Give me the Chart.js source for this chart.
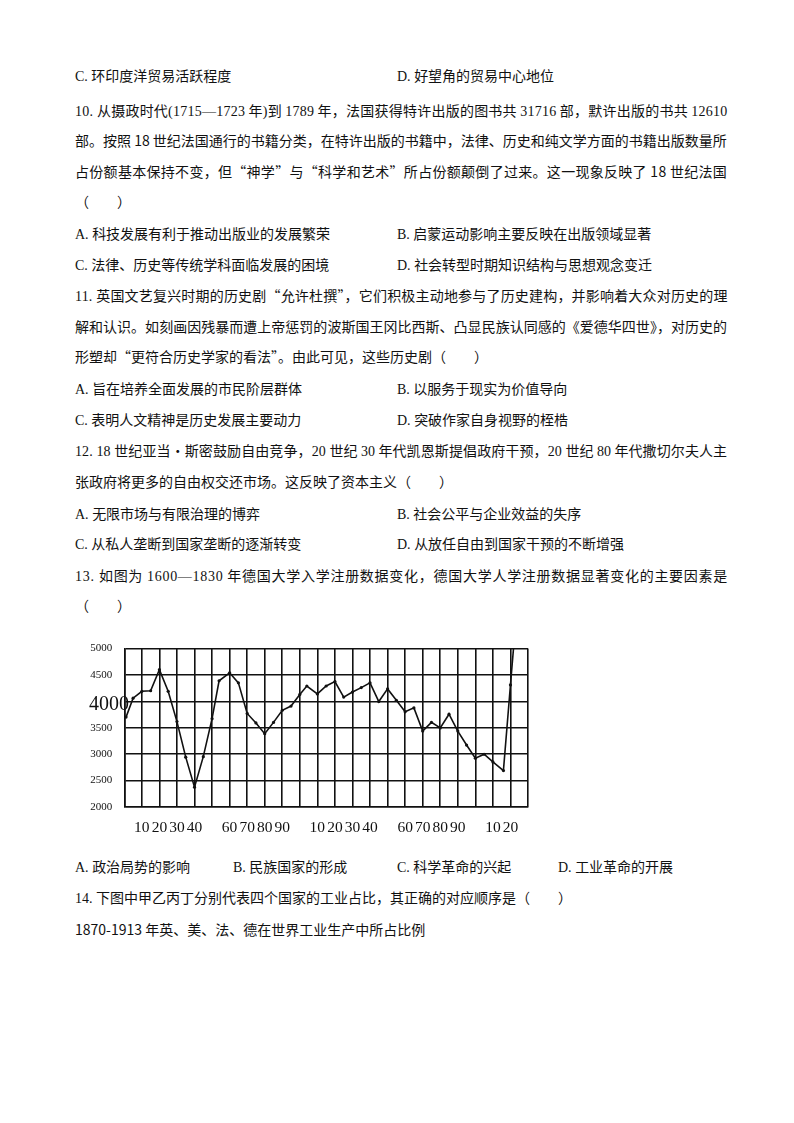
<!DOCTYPE html>
<html>
<head>
<meta charset="utf-8">
<script src="https://cdn.jsdelivr.net/npm/chart.js@4.4.1/dist/chart.umd.min.js"></script>
<style>
  html, body { margin: 0; padding: 0; background: #fff; }
  body { width: 794px; height: 1123px; position: relative; overflow: hidden;
         font-family: "Liberation Serif", "Noto Sans CJK SC", serif; font-size: 14px; color: #111; }
  .ln { position: absolute; left: 75px; height: 20px; line-height: 20px; white-space: nowrap; }
  .cjk { font-family: "Noto Sans CJK SC", sans-serif; }
  #chart-box { position: absolute; left: 70px; top: 630px; width: 470px; height: 212px; }
</style>
</head>
<body>
<div class="ln" style="top:65px">C. <span class="cjk">环印度洋贸易活跃程度</span></div>
<div class="ln" style="top:65px;left:397px">D. <span class="cjk">好望角的贸易中心地位</span></div>

<div class="ln full" style="top:100px">10. <span class="cjk">从摄政时代</span>(1715—1723<span class="cjk"> 年</span>)<span class="cjk">到 </span>1789<span class="cjk"> 年，法国获得特许出版的图书共 </span>31716<span class="cjk"> 部，默许出版的书共 </span>12610</div>
<div class="ln full cjk" style="top:130px">部。按照 18 世纪法国通行的书籍分类，在特许出版的书籍中，法律、历史和纯文学方面的书籍出版数量所</div>
<div class="ln full cjk" style="top:161px">占份额基本保持不变，但“神学”与“科学和艺术”所占份额颠倒了过来。这一现象反映了 18 世纪法国</div>
<div class="ln cjk" style="top:191px">（　　）</div>
<div class="ln" style="top:223px">A. <span class="cjk">科技发展有利于推动出版业的发展繁荣</span></div>
<div class="ln" style="top:223px;left:397px">B. <span class="cjk">启蒙运动影响主要反映在出版领域显著</span></div>
<div class="ln" style="top:254px">C. <span class="cjk">法律、历史等传统学科面临发展的困境</span></div>
<div class="ln" style="top:254px;left:397px">D. <span class="cjk">社会转型时期知识结构与思想观念变迁</span></div>

<div class="ln full" style="top:285px">11. <span class="cjk">英国文艺复兴时期的历史剧“允许杜撰”，它们积极主动地参与了历史建构，并影响着大众对历史的理</span></div>
<div class="ln full cjk" style="top:316px">解和认识。如刻画因残暴而遭上帝惩罚的波斯国王冈比西斯、凸显民族认同感的《爱德华四世》，对历史的</div>
<div class="ln cjk" style="top:346px">形塑却“更符合历史学家的看法”。由此可见，这些历史剧（　　）</div>
<div class="ln" style="top:378px">A. <span class="cjk">旨在培养全面发展的市民阶层群体</span></div>
<div class="ln" style="top:378px;left:397px">B. <span class="cjk">以服务于现实为价值导向</span></div>
<div class="ln" style="top:409px">C. <span class="cjk">表明人文精神是历史发展主要动力</span></div>
<div class="ln" style="top:409px;left:397px">D. <span class="cjk">突破作家自身视野的桎梏</span></div>

<div class="ln full" style="top:440px">12. 18 <span class="cjk">世纪亚当·斯密鼓励自由竞争，</span>20 <span class="cjk">世纪 </span>30<span class="cjk"> 年代凯恩斯提倡政府干预，</span>20 <span class="cjk">世纪 </span>80<span class="cjk"> 年代撒切尔夫人主</span></div>
<div class="ln cjk" style="top:471px">张政府将更多的自由权交还市场。这反映了资本主义（　　）</div>
<div class="ln" style="top:503px">A. <span class="cjk">无限市场与有限治理的博弈</span></div>
<div class="ln" style="top:503px;left:397px">B. <span class="cjk">社会公平与企业效益的失序</span></div>
<div class="ln" style="top:533px">C. <span class="cjk">从私人垄断到国家垄断的逐渐转变</span></div>
<div class="ln" style="top:533px;left:397px">D. <span class="cjk">从放任自由到国家干预的不断增强</span></div>

<div class="ln full" style="top:565px">13. <span class="cjk">如图为 </span>1600—1830<span class="cjk"> 年德国大学入学注册数据变化，德国大学人学注册数据显著变化的主要因素是</span></div>
<div class="ln cjk" style="top:595px">（　　）</div>

<div id="chart-box"><canvas id="enrol-chart"></canvas></div>

<div class="ln" style="top:856px">A. <span class="cjk">政治局势的影响</span></div>
<div class="ln" style="top:856px;left:233px">B. <span class="cjk">民族国家的形成</span></div>
<div class="ln" style="top:856px;left:397px">C. <span class="cjk">科学革命的兴起</span></div>
<div class="ln" style="top:856px;left:558px">D. <span class="cjk">工业革命的开展</span></div>
<div class="ln" style="top:887px">14. <span class="cjk">下图中甲乙丙丁分别代表四个国家的工业占比，其正确的对应顺序是（　　）</span></div>
<div class="ln cjk" style="top:919px">1870-1913 年英、美、法、德在世界工业生产中所占比例</div>

<script>
// 德国大学入学注册人数 1600—1830
const years = [1601, 1605, 1610, 1615, 1620, 1625, 1630, 1635, 1640, 1645,
               1650, 1654, 1660, 1665, 1670, 1675, 1680, 1685, 1690, 1695,
               1700, 1704, 1710, 1715, 1720, 1725, 1730, 1735, 1740, 1745,
               1750, 1755, 1760, 1765, 1770, 1775, 1780, 1785, 1790, 1795,
               1800, 1805, 1810, 1816, 1820, 1825];
const students = [3700, 4060, 4190, 4200, 4600, 4190, 3615, 2940, 2370, 2950,
                  3670, 4390, 4540, 4350, 3770, 3590, 3385, 3600, 3830, 3910,
                  4130, 4290, 4140, 4290, 4375, 4080, 4175, 4260, 4350, 3995,
                  4235, 4020, 3800, 3875, 3435, 3600, 3495, 3755, 3435, 3170,
                  2920, 2995, 2850, 2685, 4310, 6300];
// 横轴上印出的刻度（只印年份后两位）
const xLabelYears = [1610, 1620, 1630, 1640, 1660, 1670, 1680, 1690,
                     1710, 1720, 1730, 1740, 1760, 1770, 1780, 1790, 1810, 1820];
const yBigLabel = 4000;

const ink = '#111';
const lineWidthPx = 652;

// 两端对齐：按行宽调整字距
document.querySelectorAll('.full').forEach(el => {
    const natural = el.scrollWidth;
    const chars = el.textContent.length;
    el.style.letterSpacing = ((lineWidthPx - natural) / (chars - 1)) + 'px';
});

const bigTickLabel = {
    id: 'bigTickLabel',
    afterDraw(chart) {
        const ctx = chart.ctx;
        const y = chart.scales.y.getPixelForValue(yBigLabel);
        ctx.save();
        ctx.font = '20px "Liberation Serif"';
        ctx.fillStyle = ink;
        ctx.textAlign = 'left';
        ctx.textBaseline = 'middle';
        ctx.fillText(String(yBigLabel), 19, y + 3);
        ctx.restore();
    }
};

new Chart(document.getElementById('enrol-chart').getContext('2d'), {
    type: 'line',
    data: {
        datasets: [{
            data: years.map((yr, i) => ({ x: yr, y: students[i] })),
            borderColor: ink,
            borderWidth: 1.6,
            pointRadius: 1.6,
            pointBackgroundColor: ink,
            pointBorderWidth: 0,
            tension: 0
        }]
    },
    options: {
        responsive: true,
        maintainAspectRatio: false,
        animation: false,
        layout: { padding: { top: 15.7, right: 9.3, left: 0, bottom: 0 } },
        plugins: { legend: { display: false }, tooltip: { enabled: false } },
        scales: {
            x: {
                type: 'linear',
                min: 1600,
                max: 1830,
                border: { color: ink, width: 1.6 },
                grid: { color: ink, lineWidth: 1.6, drawTicks: false },
                ticks: {
                    stepSize: 10,
                    autoSkip: false,
                    maxRotation: 0,
                    padding: 12,
                    color: ink,
                    font: { family: 'Liberation Serif', size: 15.5 },
                    callback: v => xLabelYears.includes(v) ? String(v % 100) : ''
                },
                afterFit: s => { s.height = 35.3; }
            },
            y: {
                min: 2000,
                max: 5000,
                border: { color: ink, width: 1.6 },
                grid: { color: ink, lineWidth: 1.6, drawTicks: false },
                ticks: {
                    stepSize: 500,
                    padding: 12,
                    color: ink,
                    font: { family: 'Liberation Serif', size: 11 },
                    callback: v => v === yBigLabel ? '' : String(v)
                },
                afterFit: s => { s.width = 54.3; }
            }
        }
    },
    plugins: [bigTickLabel]
});
</script>
</body>
</html>
